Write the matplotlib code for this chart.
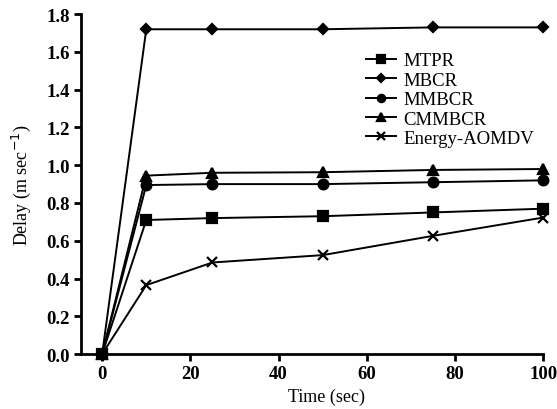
import matplotlib
matplotlib.use("Agg")
import matplotlib.pyplot as plt

time_s = [0, 10, 25, 50, 75, 100]
mtpr = [0.0, 0.71, 0.72, 0.73, 0.75, 0.77]
mbcr = [0.0, 1.72, 1.72, 1.72, 1.73, 1.73]
mmbcr = [0.0, 0.895, 0.90, 0.90, 0.91, 0.92]
cmmbcr = [0.0, 0.945, 0.96, 0.963, 0.975, 0.98]
energy_aomdv = [0.0, 0.365, 0.485, 0.524, 0.626, 0.723]

series = [
    ("MTPR", mtpr, "s", 7),
    ("MBCR", mbcr, "D", 5.5),
    ("MMBCR", mmbcr, "o", 7),
    ("CMMBCR", cmmbcr, "^", 7.5),
    ("Energy-AOMDV", energy_aomdv, "x", 7),
]

plt.rcParams["font.family"] = ["Liberation Serif", "DejaVu Serif"]

fig = plt.figure(figsize=(5.57, 4.10), dpi=100)
ax = fig.add_axes([0.1454, 0.134, 0.83, 0.829])

for name, vals, mk, ms in series:
    ax.plot(time_s, vals, color="black", lw=1.4, marker=mk, ms=ms,
            mew=1.6, label=name, clip_on=False, zorder=3)

ax.set_xlim(-4.8, 100)
ax.set_ylim(0, 1.8)
ax.set_xticks([0, 20, 40, 60, 80, 100])
ax.set_yticks([0.0, 0.2, 0.4, 0.6, 0.8, 1.0, 1.2, 1.4, 1.6, 1.8])
ax.set_yticklabels([f"{v:.1f}" for v in ax.get_yticks()])

for s in ("top", "right"):
    ax.spines[s].set_visible(False)
for s in ("left", "bottom"):
    ax.spines[s].set_linewidth(2)
ax.tick_params(width=2, length=5, labelsize=13.5, pad=3)
for lbl in ax.get_xticklabels() + ax.get_yticklabels():
    lbl.set_fontweight("bold")

ax.set_xlabel("Time (sec)", fontsize=13)
ax.xaxis.set_label_coords(0.53, -0.1)
ax.set_ylabel("Delay (m sec$^{-1}$)", fontsize=13)
ax.yaxis.set_label_coords(-0.104, 0.5)

ax.legend(loc="upper left", bbox_to_anchor=(0.6, 0.91), frameon=False,
          fontsize=13.5, handlelength=1.6, handletextpad=0.4,
          labelspacing=0.12, borderaxespad=0.0, markerscale=0.75)

fig.savefig("out.png", dpi=100)
